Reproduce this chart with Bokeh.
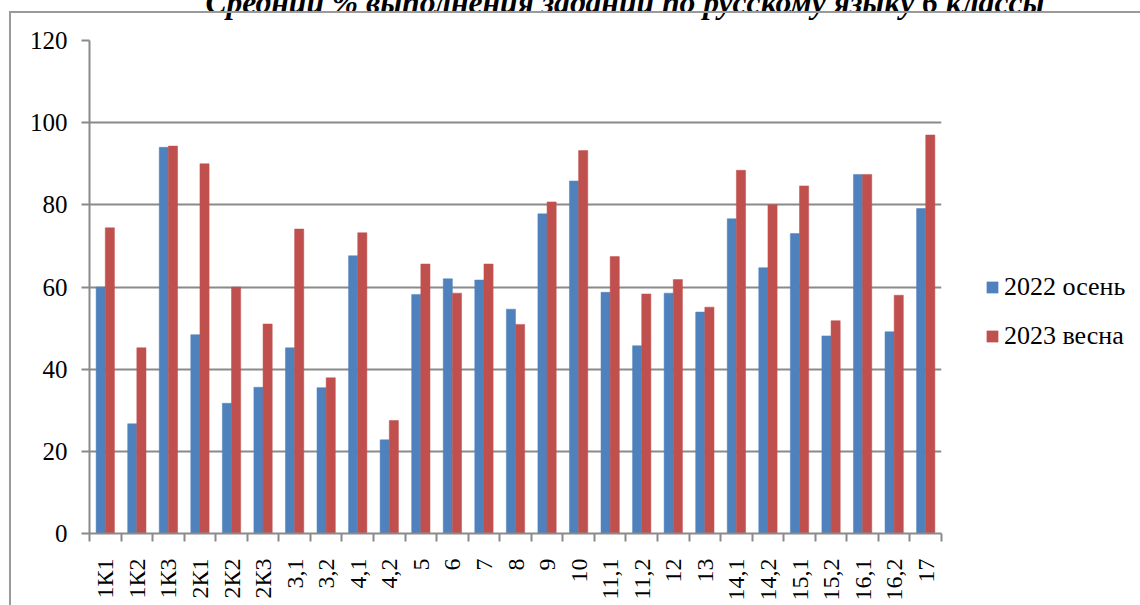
import numpy as np
from bokeh.plotting import figure
from bokeh.models import (Range1d, FixedTicker, Legend, LegendItem,
                          ColumnDataSource, InlineStyleSheet)
from bokeh.embed import file_html
from bokeh.resources import INLINE

title_text = "Средний % выполнения заданий по русскому языку 6 классы"
categories = ["1К1", "1К2", "1К3", "2К1", "2К2", "2К3", "3,1", "3,2", "4,1", "4,2",
              "5", "6", "7", "8", "9", "10", "11,1", "11,2", "12", "13",
              "14,1", "14,2", "15,1", "15,2", "16,1", "16,2", "17"]
autumn_2022 = [60.0, 26.7, 94.0, 48.4, 31.7, 35.6, 45.2, 35.5, 67.6, 22.8,
               58.2, 62.0, 61.7, 54.6, 77.8, 85.8, 58.7, 45.7, 58.5, 53.9,
               76.6, 64.7, 73.0, 48.1, 87.4, 49.1, 79.1]
spring_2023 = [74.4, 45.2, 94.3, 90.0, 60.0, 51.0, 74.1, 37.9, 73.2, 27.5,
               65.6, 58.5, 65.6, 50.9, 80.7, 93.2, 67.4, 58.3, 61.8, 55.1,
               88.4, 80.0, 84.6, 51.8, 87.4, 58.0, 97.0]
series_names = ["2022 осень", "2023 весна"]
y_ticks = [0, 20, 40, 60, 80, 100, 120]

n = len(categories)
centers = np.arange(n) + 0.5
src = ColumnDataSource(dict(x1=centers - 0.145, x2=centers + 0.145,
                            a=autumn_2022, s=spring_2023))

FONT = "Liberation Serif"
GRID = "#8a8a8a"

p = figure(frame_width=852, frame_height=493,
           min_border_left=89, min_border_right=199,
           min_border_top=88, min_border_bottom=72,
           x_range=Range1d(0, n), y_range=Range1d(0, 120),
           output_backend="svg", toolbar_location=None,
           background_fill_color="white", border_fill_color="white")
p.styles = {"margin-top": "-48px"}
p.stylesheets = [InlineStyleSheet(css="""
:host { position: relative; }
:host::after {
  content: ''; position: absolute; left: 9px; top: 59px; right: 0; bottom: 0;
  border-left: 2px solid #9a9a9a; border-top: 2px solid #9a9a9a;
  pointer-events: none; z-index: 10;
}
""")]
p.outline_line_color = None

# title (mostly cut off at the top of the image, as in the reference)
p.title.text = title_text
p.title.text_font = FONT
p.title.text_font_size = "31.6px"
p.title.text_font_style = "bold italic"
p.title.text_color = "black"
p.title.align = "left"
p.title.offset = 116
p.title.standoff = 42

r1 = p.vbar(x="x1", top="a", width=0.29, source=src,
            fill_color="#4F81BD", line_color="#4F81BD", line_width=0.5)
r2 = p.vbar(x="x2", top="s", width=0.29, source=src,
            fill_color="#C0504D", line_color="#C0504D", line_width=0.5)

# axes
xa = p.xaxis[0]
xa.ticker = FixedTicker(ticks=list(centers), minor_ticks=list(range(n + 1)))
xa.major_label_overrides = {float(c): lab for c, lab in zip(centers, categories)}
xa.major_tick_out = 0
xa.major_tick_in = 0
xa.minor_tick_out = 8
xa.minor_tick_in = 0
xa.minor_tick_line_color = GRID
xa.minor_tick_line_width = 2
xa.axis_line_color = GRID
xa.axis_line_width = 2
xa.major_label_orientation = np.pi / 2
xa.major_label_standoff = 17
xa.major_label_text_font = FONT
xa.major_label_text_font_size = "24px"
xa.major_label_text_color = "black"

ya = p.yaxis[0]
ya.ticker = FixedTicker(ticks=y_ticks)
ya.major_tick_out = 8
ya.major_tick_in = 0
ya.minor_tick_line_color = None
ya.major_tick_line_color = GRID
ya.major_tick_line_width = 2
ya.axis_line_color = GRID
ya.axis_line_width = 2
ya.major_label_standoff = 14
ya.major_label_text_font = FONT
ya.major_label_text_font_size = "25px"
ya.major_label_text_color = "black"

p.xgrid.grid_line_color = None
p.ygrid.grid_line_color = GRID
p.ygrid.grid_line_width = 2
p.ygrid.ticker = FixedTicker(ticks=y_ticks)

legend = Legend(items=[LegendItem(label=series_names[0], renderers=[r1]),
                       LegendItem(label=series_names[1], renderers=[r2])],
                location=(44, 182), orientation="vertical",
                glyph_width=14, glyph_height=14, label_height=28, spacing=19,
                label_standoff=5, padding=0, margin=0,
                border_line_color=None, background_fill_alpha=0,
                label_text_font=FONT, label_text_font_size="26px",
                label_text_color="black")
p.add_layout(legend, "right")

open("out.html", "w").write(file_html(p, INLINE))
